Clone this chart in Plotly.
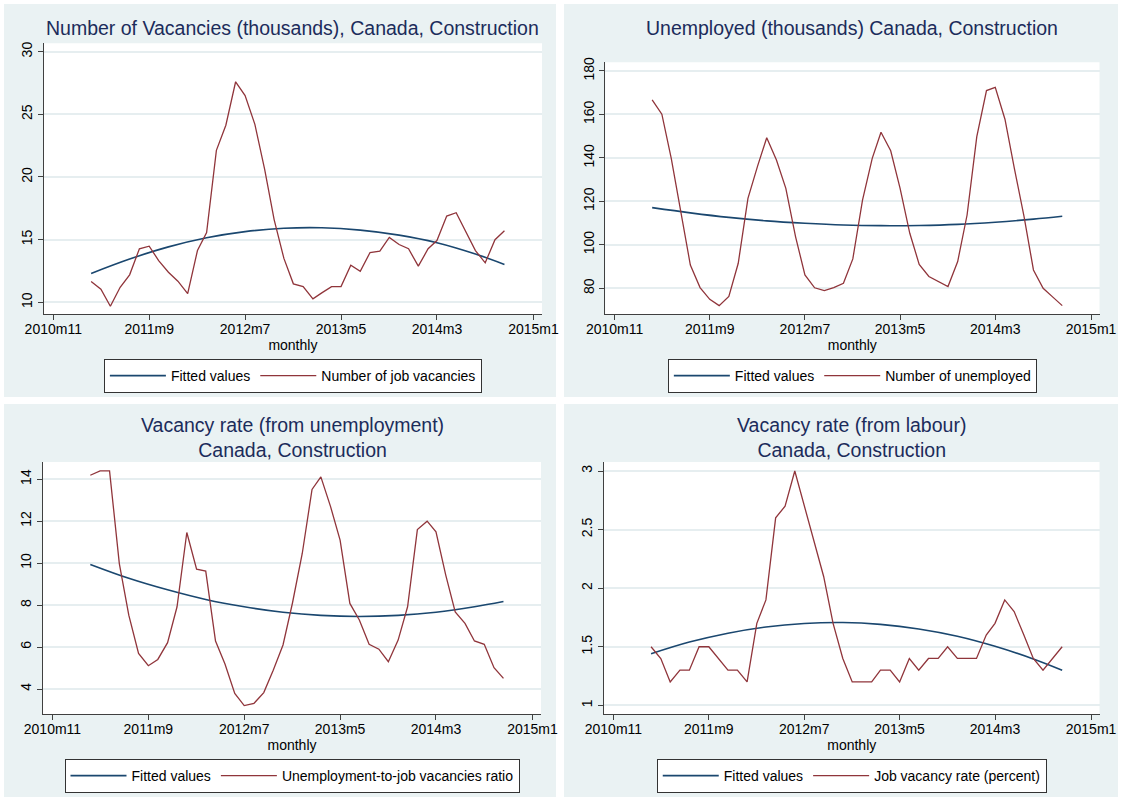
import plotly.graph_objects as go
import pandas as pd

# ---------------- data ----------------
months = list(pd.date_range("2011-03-01", periods=44, freq="MS"))

vacancies = [11.65, 11.04, 9.68, 11.2, 12.19, 14.27, 14.48, 13.33, 12.4, 11.68,
             10.69, 14.13, 15.57, 22.13, 24.13, 27.6, 26.5, 24.2, 20.6, 16.6,
             13.5, 11.47, 11.25, 10.27, 10.75, 11.25, 11.25, 12.96, 12.48, 13.97,
             14.08, 15.17, 14.61, 14.27, 12.88, 14.27, 14.93, 16.88, 17.15, 15.68,
             14.13, 13.15, 14.99, 15.71]

unemployed = [166.7, 160.1, 139.8, 114.5, 90.7, 80.3, 74.9, 72.0, 76.2, 91.5,
              121.4, 136.3, 149.3, 139.0, 126.0, 103.8, 86.1, 80.2, 78.9, 80.3,
              82.3, 93.5, 120.6, 139.8, 151.8, 143.3, 126.0, 105.3, 91.0, 85.4,
              83.1, 80.8, 92.3, 113.7, 149.8, 171.0, 172.5, 157.8, 135.2, 113.0,
              88.4, 80.0, 75.9, 72.0]

ratio = [14.19, 14.40, 14.40, 9.98, 7.52, 5.70, 5.11, 5.41, 6.21, 7.92,
         11.46, 9.71, 9.62, 6.29, 5.19, 3.79, 3.21, 3.32, 3.83, 4.90,
         6.10, 8.1, 10.46, 13.51, 14.11, 12.68, 11.10, 8.08, 7.29, 6.13,
         5.90, 5.30, 6.33, 7.92, 11.60, 12.0, 11.49, 9.43, 7.68, 7.13,
         6.29, 6.13, 5.02, 4.51]

vac_rate = [1.5, 1.4, 1.2, 1.3, 1.3, 1.5, 1.5, 1.4, 1.3, 1.3,
            1.2, 1.7, 1.9, 2.6, 2.7, 3.0, 2.7, 2.4, 2.1, 1.7,
            1.4, 1.2, 1.2, 1.2, 1.3, 1.3, 1.2, 1.4, 1.3, 1.4,
            1.4, 1.5, 1.4, 1.4, 1.4, 1.6, 1.7, 1.9, 1.8, 1.6,
            1.4, 1.3, 1.4, 1.5]

# fitted (quadratic) curves at these month positions
fit_idx = [0, 4, 8, 12, 16, 20, 24, 28, 32, 36, 40, 43]
vac_fit = [12.30, 13.45, 14.42, 15.15, 15.64, 15.91, 15.95, 15.76, 15.36, 14.75, 13.85, 13.02]
unemp_fit = [117.1, 114.7, 112.6, 111.0, 109.9, 109.1, 108.8, 108.9, 109.4, 110.4, 111.8, 113.1]
ratio_fit = [9.94, 9.28, 8.73, 8.27, 7.92, 7.66, 7.51, 7.46, 7.51, 7.66, 7.92, 8.17]
rate_fit = [1.44, 1.54, 1.616, 1.669, 1.699, 1.707, 1.691, 1.652, 1.590, 1.504, 1.396, 1.30]

tick_dates = ["2010-11-01", "2011-09-01", "2012-07-01", "2013-05-01", "2014-03-01", "2015-01-01"]
tick_text = ["2010m11", "2011m9", "2012m7", "2013m5", "2014m3", "2015m1"]

series_names = ["Number of job vacancies", "Number of unemployed",
                "Unemployment-to-job vacancies ratio", "Job vacancy rate (percent)"]
titles = ["Number of Vacancies (thousands), Canada, Construction",
          "Unemployed (thousands) Canada, Construction",
          "Vacancy rate (from unemployment)<br>Canada, Construction",
          "Vacancy rate (from labour)<br>Canada, Construction"]
title_y = [28, 28, 437.5, 437.5]

y_ticks = [[10, 15, 20, 25, 30], [80, 100, 120, 140, 160, 180],
           [4, 6, 8, 10, 12, 14], [1, 1.5, 2, 2.5, 3]]
y_ranges = [[9.04, 30.67], [68.0, 184.0], [2.81, 14.82], [0.926, 3.077]]

# ---------------- style ----------------
W, H = 1123, 799
NAVY = "#1a476f"
MAROON = "#90353b"
BG = "#EAF2F3"
GRID = "#E6EEF0"
AXIS = "#404040"
TITLE = "#1c2c5b"
FONT = "Liberation Sans, Arial, sans-serif"

# plot areas in pixels: (left, right, top, bottom)
plots = [(43.8, 542.0, 43.3, 314.3), (605.2, 1099.5, 62.3, 314.3),
         (43.0, 541.0, 462.0, 714.0), (604.0, 1099.5, 462.0, 714.0)]
panels = [(4, 556, 4, 397), (564, 1118, 4, 397), (4, 556, 404, 797), (564, 1118, 404, 797)]

def px(x):
    return x / W

def py(y):
    return 1 - y / H

fig = go.Figure()
datas = [vacancies, unemployed, ratio, vac_rate]
fits = [vac_fit, unemp_fit, ratio_fit, rate_fit]
fit_x = [months[i] for i in fit_idx]

shapes = []
annotations = []
for k in range(4):
    sfx = "" if k == 0 else str(k + 1)
    leg = "legend" if k == 0 else "legend" + str(k + 1)
    fig.add_trace(go.Scatter(x=fit_x, y=fits[k], mode="lines", name="Fitted values",
                             line=dict(color=NAVY, width=1.6, shape="spline"),
                             xaxis="x" + sfx, yaxis="y" + sfx, legend=leg))
    fig.add_trace(go.Scatter(x=months, y=datas[k], mode="lines", name=series_names[k],
                             line=dict(color=MAROON, width=1.3),
                             xaxis="x" + sfx, yaxis="y" + sfx, legend=leg))
    l, r, t, b = plots[k]
    axis_common = dict(showline=True, linecolor=AXIS, linewidth=1, mirror=False,
                       ticks="outside", ticklen=5, tickwidth=1, tickcolor=AXIS,
                       tickfont=dict(size=14, color="#000000", family=FONT), zeroline=False,
                       automargin=False)
    fig.update_layout(**{
        "xaxis" + sfx: dict(domain=[px(l), px(r)], anchor="y" + sfx, type="date",
                            range=["2010-10-02", "2015-01-28"],
                            tickmode="array", tickvals=tick_dates, ticktext=tick_text,
                            showgrid=False, ticklabelstandoff=-3,
                            title=dict(text="monthly", standoff=0,
                                       font=dict(size=14, color="#000000", family=FONT)),
                            **axis_common),
        "yaxis" + sfx: dict(domain=[py(b), py(t)], anchor="x" + sfx,
                            range=y_ranges[k], tickmode="array", tickvals=y_ticks[k],
                            tickangle=-90, showgrid=True, gridcolor=GRID, gridwidth=1.5,
                            **axis_common),
        leg: dict(orientation="h", x=px((l + r) / 2), xanchor="center",
                  y=py(panels[k][2] + 355), yanchor="top",
                  bgcolor="#ffffff", bordercolor="#333333", borderwidth=1,
                  font=dict(size=14, color="#000000", family=FONT),
                  itemwidth=56, traceorder="normal"),
    })
    x0, x1, y0, y1 = panels[k]
    shapes.append(dict(type="rect", xref="paper", yref="paper", x0=px(x0), x1=px(x1),
                       y0=py(y1), y1=py(y0), fillcolor=BG, line=dict(width=0), layer="below"))
    shapes.append(dict(type="rect", xref="paper", yref="paper", x0=px(l), x1=px(r),
                       y0=py(b), y1=py(t), fillcolor="#ffffff", line=dict(width=0), layer="below"))
    annotations.append(dict(text=titles[k], x=px((l + r) / 2), y=py(title_y[k]),
                            xref="paper", yref="paper", xanchor="center", yanchor="middle",
                            showarrow=False, align="center",
                            font=dict(size=19.5, color=TITLE, family=FONT)))

fig.update_layout(width=W, height=H,
                  margin=dict(l=0, r=0, t=0, b=0, pad=0, autoexpand=False),
                  paper_bgcolor="#ffffff", plot_bgcolor="#ffffff",
                  font=dict(family=FONT, color="#000000"),
                  shapes=shapes, annotations=annotations, showlegend=True)

fig.write_html("out.html", config={"displayModeBar": False},
               post_script="document.body.style.margin='0px';document.body.style.overflow='hidden';")
